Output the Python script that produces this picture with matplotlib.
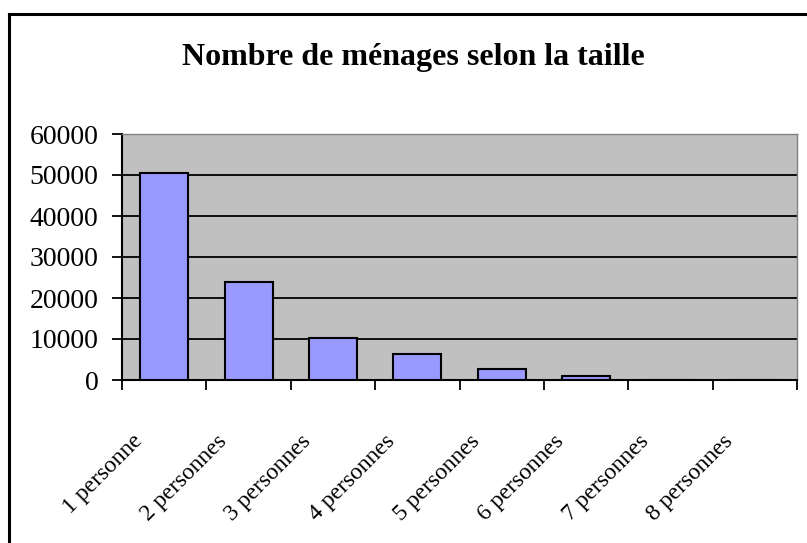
"""
menages par taille
"""

import matplotlib as mpl
mpl.use('Agg')
import matplotlib.pyplot as plt
from matplotlib.lines import Line2D
from matplotlib.transforms import ScaledTranslation

categories = ['1 personne', '2 personnes', '3 personnes', '4 personnes',
              '5 personnes', '6 personnes', '7 personnes', '8 personnes']
menages = [50400, 24000, 10300, 6350, 2600, 1050, 80, 30]
yticks = [0, 10000, 20000, 30000, 40000, 50000, 60000]

plt.rcParams['font.family'] = ['Liberation Serif', 'DejaVu Serif']

W, H = 807, 543
fig = plt.figure(figsize=(W / 100, H / 100), dpi=100)
ax = fig.add_axes([122 / W, 1 - 380 / H, (797 - 122) / W, (380 - 134) / H])

ax.set_facecolor('#C0C0C0')
x = list(range(len(categories)))
ax.bar(x, menages, width=0.57, color='#9999FF', edgecolor='black',
       linewidth=1.5, zorder=3)

ax.set_xlim(-0.5, len(categories) - 0.5)
ax.set_ylim(0, 60000)
ax.set_yticks(yticks)
ax.set_yticklabels([str(v) for v in yticks], fontsize=20)
ax.yaxis.grid(True, color='black', linewidth=1.3, zorder=1)
ax.set_axisbelow(True)

# tick marks between categories, labels at the centres
ax.set_xticks([i - 0.5 for i in range(len(categories) + 1)], minor=True)
ax.set_xticks(x)
ax.set_xticklabels(categories, fontsize=17, rotation=45,
                   ha='right', va='center', rotation_mode='anchor')
ax.tick_params(axis='x', which='major', length=0, pad=0)
ax.tick_params(axis='x', which='minor', length=7, width=1.3, color='black')
ax.tick_params(axis='y', length=7, width=1.3, pad=10)
off = ScaledTranslation(-0.25, -0.58, fig.dpi_scale_trans)
for lab in ax.get_xticklabels():
    lab.set_transform(lab.get_transform() + off)

for s in ['left', 'bottom']:
    ax.spines[s].set_color('black')
    ax.spines[s].set_linewidth(1.5)
for s in ['top', 'right']:
    ax.spines[s].set_color('#808080')
    ax.spines[s].set_linewidth(1.0)

fig.text(0.5 * (183 + 643) / W, 1 - 57 / H, 'Nombre de ménages selon la taille',
         fontsize=23, fontweight='bold', ha='center', va='center')

# chart area border
fig.add_artist(Line2D([8.5 / W, 1], [1 - 13.5 / H, 1 - 13.5 / H],
                      color='black', linewidth=2.2, transform=fig.transFigure))
fig.add_artist(Line2D([8.5 / W, 8.5 / W], [0, 1 - 13.5 / H],
                      color='black', linewidth=2.2, transform=fig.transFigure))

fig.savefig('out.png', dpi=100)
